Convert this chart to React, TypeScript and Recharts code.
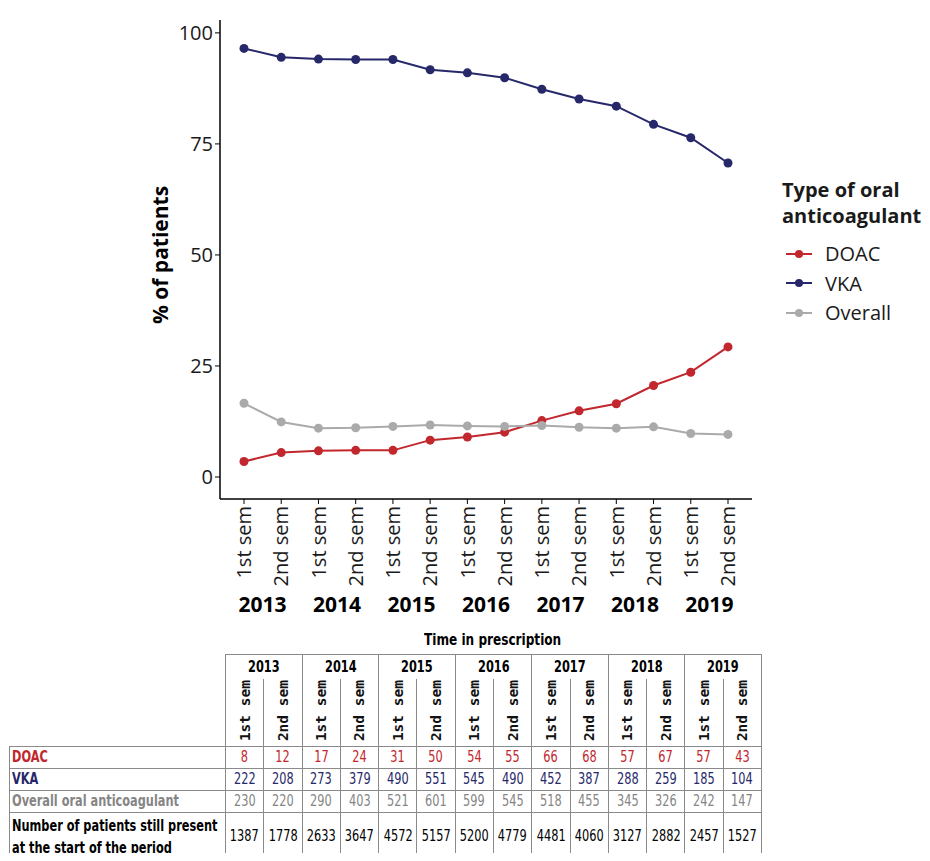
import { LineChart, Line, XAxis, YAxis } from "recharts";

const years = ["2013", "2014", "2015", "2016", "2017", "2018", "2019"];
const semesters = ["1st sem", "2nd sem"];

// % of patients
const doacPct = [3.5, 5.5, 5.9, 6.0, 6.0, 8.3, 9.0, 10.1, 12.7, 14.9, 16.5, 20.6, 23.6, 29.3];
const vkaPct = [96.5, 94.5, 94.1, 94.0, 94.0, 91.7, 91.0, 89.9, 87.3, 85.1, 83.5, 79.4, 76.4, 70.7];
const overallPct = [16.6, 12.4, 11.0, 11.1, 11.4, 11.7, 11.5, 11.4, 11.6, 11.2, 11.0, 11.3, 9.8, 9.6];

// table counts
const doacCounts = [8, 12, 17, 24, 31, 50, 54, 55, 66, 68, 57, 67, 57, 43];
const vkaCounts = [222, 208, 273, 379, 490, 551, 545, 490, 452, 387, 288, 259, 185, 104];
const overallCounts = [230, 220, 290, 403, 521, 601, 599, 545, 518, 455, 345, 326, 242, 147];
const patientCounts = [1387, 1778, 2633, 3647, 4572, 5157, 5200, 4779, 4481, 4060, 3127, 2882, 2457, 1527];

const yTicks = [0, 25, 50, 75, 100];

const RED = "#c1272d";
const NAVY = "#27286a";
const GREY = "#aaaaaa";

const series = [
  { key: "DOAC", label: "DOAC", color: RED },
  { key: "VKA", label: "VKA", color: NAVY },
  { key: "Overall", label: "Overall", color: GREY },
];

const data = years.flatMap((yr, yi) =>
  semesters.map((sem, si) => {
    const i = yi * 2 + si;
    return {
      key: `${yr} ${sem}`,
      year: yr,
      sem,
      DOAC: doacPct[i],
      VKA: vkaPct[i],
      Overall: overallPct[i],
    };
  })
);

const CHART_W = 930;
const CHART_H = 630;
const Y_AXIS_W = 220;
const RIGHT_M = 178;
const X_PAD = 24;
const PLOT_W = CHART_W - Y_AXIS_W - RIGHT_M - 2 * X_PAD;
const STEP = PLOT_W / (data.length - 1);

const FONT = "'Open Sans', 'DejaVu Sans', sans-serif";
const NARROW = "'DejaVu Sans Condensed', 'DejaVu Sans', sans-serif";

function PeriodTick(props: any) {
  const { x, y, payload } = props;
  const row = data.find((d) => d.key === payload.value);
  if (!row) return null;
  return (
    <g>
      <g transform={`translate(${x},${y})`}>
        <text
          transform="rotate(-90)"
          textAnchor="end"
          dy="0.36em"
          fontSize={20}
          fontFamily={FONT}
          fill="#1a1a1a"
        >
          {row.sem}
        </text>
      </g>
      {row.sem === semesters[1] && (
        <text
          x={x - STEP / 2}
          y={y + 98}
          textAnchor="middle"
          dominantBaseline="central"
          fontSize={21}
          fontWeight="bold"
          fontFamily={FONT}
          fill="#000"
        >
          {row.year}
        </text>
      )}
    </g>
  );
}

const border = "1px solid #8a8a8a";

function Narrow({ children, left }: { children: any; left?: boolean }) {
  return (
    <span
      style={{
        display: "inline-block",
        transform: "scaleX(0.84)",
        transformOrigin: left ? "left center" : "center",
        whiteSpace: "nowrap",
      }}
    >
      {children}
    </span>
  );
}

function Table() {
  const rows = [
    { label: ["DOAC"], values: doacCounts, color: RED, h: 22 },
    { label: ["VKA"], values: vkaCounts, color: NAVY, h: 22 },
    { label: ["Overall oral anticoagulant"], values: overallCounts, color: "#858585", h: 22 },
    {
      label: ["Number of patients still present", "at the start of the period"],
      values: patientCounts,
      color: "#000",
      h: 48,
    },
  ];
  const colW = 536 / 14;
  return (
    <table
      style={{
        position: "absolute",
        left: 9,
        top: 654,
        width: 752,
        borderCollapse: "collapse",
        tableLayout: "fixed",
        fontFamily: NARROW,
      }}
    >
      <colgroup>
        <col style={{ width: 216 }} />
        {data.map((d) => (
          <col key={d.key} style={{ width: colW }} />
        ))}
      </colgroup>
      <tbody>
        <tr style={{ height: 24 }}>
          <td rowSpan={2} style={{ border: "none" }} />
          {years.map((yr) => (
            <td
              key={yr}
              colSpan={2}
              style={{
                borderTop: border,
                borderLeft: border,
                borderRight: border,
                borderBottom: "none",
                textAlign: "center",
                fontWeight: "bold",
                fontSize: 15,
                padding: 0,
                lineHeight: "20px",
              }}
            >
              <Narrow>{yr}</Narrow>
            </td>
          ))}
        </tr>
        <tr style={{ height: 68 }}>
          {data.map((d) => (
            <td
              key={d.key}
              style={{
                borderLeft: border,
                borderRight: border,
                borderTop: "none",
                borderBottom: border,
                padding: 0,
                textAlign: "center",
                verticalAlign: "middle",
              }}
            >
              <span
                style={{
                  display: "inline-block",
                  writingMode: "vertical-rl",
                  transform: "rotate(180deg)",
                  fontFamily: "'DejaVu Sans Mono', monospace",
                  fontWeight: "bold",
                  fontSize: 14.5,
                  color: "#111",
                }}
              >
                {d.sem}
              </span>
            </td>
          ))}
        </tr>
        {rows.map((r) => (
          <tr key={r.label[0]} style={{ height: r.h }}>
            <td
              style={{
                border,
                padding: "0 2px",
                fontWeight: "bold",
                fontSize: 15,
                color: r.color,
                lineHeight: r.label.length > 1 ? "22px" : "19px",
              }}
            >
              {r.label.map((l) => (
                <div key={l}>
                  <Narrow left>{l}</Narrow>
                </div>
              ))}
            </td>
            {r.values.map((v, i) => (
              <td
                key={i}
                style={{
                  border,
                  padding: 0,
                  textAlign: "center",
                  fontSize: 15,
                  lineHeight: "19px",
                  color: r.color,
                }}
              >
                <Narrow>{v}</Narrow>
              </td>
            ))}
          </tr>
        ))}
      </tbody>
    </table>
  );
}

function LegendBox() {
  return (
    <div
      style={{
        position: "absolute",
        left: 782,
        top: 177,
        fontFamily: FONT,
        color: "#1a1a1a",
      }}
    >
      <div style={{ fontWeight: "bold", fontSize: 20, lineHeight: "26px" }}>
        Type of oral
        <br />
        anticoagulant
      </div>
      <div style={{ marginTop: 10 }}>
        {series.map((s) => (
          <div
            key={s.key}
            style={{ display: "flex", alignItems: "center", height: 29.5, fontSize: 20 }}
          >
            <svg width={34} height={14} style={{ marginRight: 9 }}>
              <line x1={4} y1={7} x2={30} y2={7} stroke={s.color} strokeWidth={2} />
              <circle cx={17} cy={7} r={4} fill={s.color} />
            </svg>
            {s.label}
          </div>
        ))}
      </div>
    </div>
  );
}

export default function App() {
  return (
    <div
      style={{
        position: "relative",
        width: 930,
        height: 861,
        margin: -8,
        background: "#fff",
        overflow: "hidden",
      }}
    >
      <div style={{ position: "absolute", left: 0, top: 0 }}>
        <LineChart
          width={CHART_W}
          height={CHART_H}
          data={data}
          margin={{ top: 20, right: RIGHT_M, left: 0, bottom: 0 }}
        >
          <XAxis
            dataKey="key"
            interval={0}
            height={CHART_H - 499}
            tick={<PeriodTick />}
            tickSize={5}
            tickLine={{ stroke: "#000" }}
            axisLine={{ stroke: "#000", strokeWidth: 1.5 }}
            padding={{ left: X_PAD, right: X_PAD }}
          />
          <YAxis
            type="number"
            domain={[-4.95, 102.9]}
            ticks={yTicks}
            width={Y_AXIS_W}
            tickSize={5}
            tickLine={{ stroke: "#000" }}
            axisLine={{ stroke: "#000", strokeWidth: 1.5 }}
            tick={{ fontSize: 20, fill: "#1a1a1a", fontFamily: FONT }}
          />
          {series.map((s) => (
            <Line
              key={s.key}
              type="linear"
              dataKey={s.key}
              stroke={s.color}
              strokeWidth={2}
              dot={{ r: 4.5, fill: s.color, stroke: s.color, strokeWidth: 0 }}
              isAnimationActive={false}
            />
          ))}
        </LineChart>
      </div>
      <div
        style={{
          position: "absolute",
          left: 160,
          top: 255,
          transform: "translate(-50%, -50%) rotate(-90deg)",
          fontFamily: FONT,
          fontWeight: "bold",
          fontSize: 21,
          whiteSpace: "nowrap",
          color: "#000",
        }}
      >
        % of patients
      </div>
      <LegendBox />
      <div
        style={{
          position: "absolute",
          left: 225,
          top: 630,
          width: 536,
          textAlign: "center",
          fontFamily: NARROW,
          fontWeight: "bold",
          fontSize: 16,
        }}
      >
        <Narrow>Time in prescription</Narrow>
      </div>
      <Table />
    </div>
  );
}
